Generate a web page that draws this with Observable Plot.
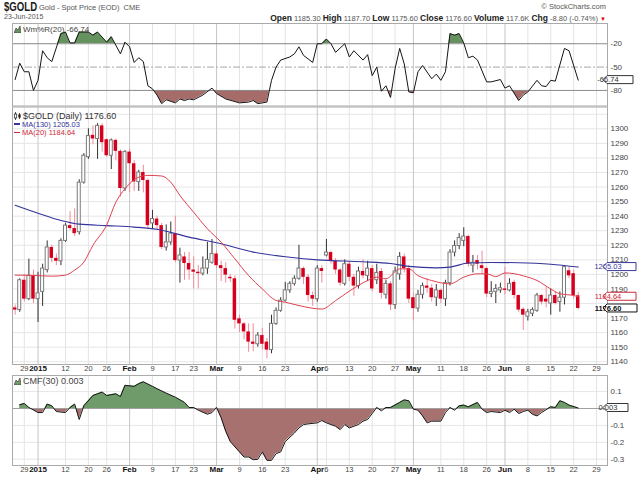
<!DOCTYPE html>
<html><head><meta charset="utf-8">
<script src="https://cdn.jsdelivr.net/npm/d3@7"></script>
<script src="https://cdn.jsdelivr.net/npm/@observablehq/plot@0.6"></script>
<style>
html,body{margin:0;padding:0;background:#fff;}
#wrap{position:relative;width:640px;height:477px;overflow:hidden;font-family:"Liberation Sans",Arial,sans-serif;background:#fff;}
#wrap svg.pl{position:absolute;left:0;top:0;}
.t{position:absolute;white-space:nowrap;line-height:1;color:#444;z-index:5;}
.t b{color:#222;}
</style></head><body>
<div id="wrap"></div>
<script>
// ---------- DATA (trading-day index 0 = 24-Dec-2014 ... 123 = 23-Jun-2015) ----------
const opens = [1177,1175.5,1196,1183,1199,1183,1188,1203,1218.5,1211,
1209,1223,1233.5,1231.5,1229,1263,1280.5,1295.5,1293,1302,
1292.5,1281.5,1292,1284.5,1259,1284,1276,1263.5,1270,1264.5,
1235,1238,1233.5,1218.5,1222,1228,1209.5,1212,1207.5,1203,
1201.5,1200.5,1204,1208,1214,1206,1204,1198,1197,1169.5,
1166,1160.5,1153.5,1152,1158,1153.5,1148,1166,1175,1182,
1189,1193.5,1197,1204,1198,1185.5,1183,1204,1213,1215,
1209,1203,1193.5,1207,1198,1192,1202,1199,1204,1196,
1202,1186,1193.5,1179,1200,1212,1204,1184,1176.5,1186,
1192,1190.5,1184,1189,1183,1194,1215,1219.5,1223,1226,
1206,1209.5,1206,1204,1186.5,1188,1189,1190,1189,1194.5,
1185.5,1176,1171,1173,1175,1185.5,1183,1180,1185.5,1181,
1184,1202.5,1200.5,1185.3];
const highs = [1179,1197,1200,1210.5,1203,1201.5,1207,1223,1220,1214,
1224.5,1235,1243,1245,1265,1283,1300,1302,1303.5,1303.5,
1293,1293,1293,1285.5,1285,1286,1278,1271.5,1275,1265.5,
1244,1240,1235,1234,1236,1240,1218,1215,1215,1212,
1206,1212,1222,1224,1216,1209,1208,1200,1199,1172,
1167,1166,1166,1160,1163,1156,1172,1177,1184,1194.5,
1195,1199,1220,1205,1200,1188,1206,1206,1224,1216,
1211,1204,1210,1209,1200,1205,1210,1209,1206,1207,
1204,1196,1195,1205,1215,1214,1206,1187,1189,1194,
1197,1193,1193,1190,1196,1217,1223,1228,1232,1227,
1213,1213,1216,1205,1195,1193,1194,1205,1197,1196,
1186,1177,1176,1177,1187,1186,1191,1190,1188,1188,
1206,1205,1203,1187.7];
const lows = [1172,1174,1181,1182,1180,1167,1178,1201,1208,1206,
1206,1222,1230,1226,1227,1262,1279,1289,1279,1284,
1280.5,1272,1278,1253,1257,1256,1257,1257,1256,1231.5,
1231,1230,1217,1216,1220,1208,1194,1196,1196,1190,
1190,1199,1200,1207,1204,1195,1194,1194.5,1162.5,1160,
1155,1146.5,1147,1150,1148,1142,1145.5,1165,1174,1181,
1187,1192,1196,1193,1181,1178,1181,1194,1212,1207,
1200,1192,1192,1195,1185,1190,1197,1195,1188,1193,
1183,1183,1175,1176,1196,1201,1180,1168,1174,1183,
1187,1181,1178,1180,1178,1192,1212,1217,1219,1205,
1201,1203,1200,1184,1184,1180,1187,1186,1188,1183,
1174,1161.5,1168,1171,1174,1179,1177,1172,1179,1174,
1179,1197,1183,1175.6];
const closes = [1175.5,1196,1183,1199,1183,1187,1204,1218.5,1211,1209,
1223,1233.5,1231.5,1228,1263,1281.5,1295,1293,1302,1290.5,
1281.5,1292,1284.5,1259,1284,1276,1263.5,1270,1264.5,1233.5,
1238,1233.5,1218.5,1222,1228,1209.5,1213,1207.5,1203,1201.5,
1200.5,1204,1210,1214,1206,1204,1199.5,1197,1168.5,1166,
1160.5,1153.5,1152,1158,1152,1148,1166,1175,1182,1189,
1193.5,1197,1204,1198,1185.5,1183,1204,1202,1215,1209,
1203,1194,1207,1198,1192,1202,1199,1204,1190,1201,
1187,1193.5,1179,1202,1212,1204,1183,1176.5,1186,1192,
1190.5,1184,1189,1183,1194,1215,1219.5,1225,1226,1207,
1208,1207,1204,1186.5,1188,1190,1190.5,1189,1193.5,1185.5,
1175.5,1172,1174,1175.5,1185.5,1181,1181,1185.5,1180,1184,
1205,1199,1185.5,1176.6];

// moving averages
const ma130Day = [0,5,10,14,20,26,31,38,45,52,60,66,76,82,86,92,95,99,104,110,117,123];
const ma130Value = [1247.5,1242,1237,1234.5,1233.5,1232.5,1231,1225.6,1221,1215.3,1211.8,1210,1208.7,1207.5,1205.5,1204.5,1205,1207.8,1208.2,1208,1207,1205.03];
const ma20Day = [0,4,8,11,13,15,17,20,22,24,27,29,32,34,36,39,42,45,48,51,54,57,59,62,67,70,73,77,79,81,84,86,88,91,95,98,101,103,105,107,109,111,114,117,119,122,123];
const ma20Value = [1199.5,1199.3,1198.8,1199.5,1203,1208.4,1220,1234,1249.6,1258.8,1266.8,1268,1267.6,1263.3,1254.2,1242.7,1231.3,1222.1,1210.7,1199.2,1190,1182.1,1180.9,1178.6,1176.2,1182,1188.5,1195.8,1198.1,1197,1203.8,1203.8,1199.2,1195.8,1193.5,1198.1,1200.4,1200.4,1198.5,1201,1200.5,1199,1195.8,1190,1186.7,1185.5,1184.64];

// Williams %R(20)
const wrDay = [0,1,2,3,4,5,6,7,8,10,11,12,13,14,16,17,18,20,21,23,24,25,26,27,28,29,30,31,32,33,35,36,37,38,39,41,43,44,46,49,51,52,53,55,56,57,58,60,61,62,63,65,66,67,68,69,70,72,73,74,76,77,78,79,80,81,82,83,84,85,86,87,88,89,91,92,93,94,95,96,97,98,99,100,101,103,104,106,107,108,110,111,112,114,115,116,117,118,120,121,123];
const wrValue = [-66,-45,-56,-56,-80,-67,-29,-38,-43,-7,-5,-19,-19,-5,-5,-9,-5,-18,-11,-33,-18,-24,-44,-38,-43,-74,-78,-86,-97,-92,-96,-91,-93,-91,-92,-86,-77,-84,-91,-96,-95,-93,-97,-95,-67,-50,-41,-37,-33,-24,-35,-44,-20,-20,-14,-20,-31,-20,-37,-29,-41,-34,-61,-50,-81,-74,-89,-52,-26,-46,-82,-83,-56,-48,-65,-59,-67,-56,-7,-9,-7,-19,-38,-36,-41,-69,-69,-66,-77,-74,-93,-86,-82,-67,-74,-75,-67,-68,-26,-29,-66.74];

// Chaikin Money Flow(30)
const cmfDay = [1,2,3,5,6,7,8,9,11,12,13,14,15,17,18,19,20,22,23,24,26,27,28,30,31,33,35,37,38,39,40,42,43,44,45,46,47,49,50,51,52,53,54,55,56,57,58,59,61,62,63,64,66,67,68,70,71,72,73,75,76,77,79,80,81,82,84,85,86,87,88,89,90,91,93,94,95,96,97,98,99,101,102,103,104,106,107,108,109,110,111,112,113,114,115,117,118,119,120,121,123];
const cmfValue = [0.022,0.030,0.006,-0.024,-0.024,0.026,0.016,-0.018,-0.024,0.006,0.026,-0.065,0.016,0.077,0.087,0.097,0.077,0.087,0.071,0.137,0.131,0.147,0.158,0.131,0.117,0.091,0.067,0.036,0.006,0.006,-0.010,-0.034,-0.024,0.006,-0.055,-0.135,-0.196,-0.257,-0.287,-0.287,-0.303,-0.301,-0.257,-0.307,-0.307,-0.267,-0.257,-0.196,-0.145,-0.115,-0.095,-0.091,-0.085,-0.071,-0.085,-0.105,-0.125,-0.095,-0.115,-0.095,-0.075,-0.065,0.006,-0.014,0.006,0.006,0.036,0.051,0.046,-0.004,-0.010,-0.044,-0.085,-0.075,-0.075,-0.024,0.006,-0.010,0.016,0.020,0.010,0.036,-0.004,-0.024,-0.018,-0.024,-0.010,-0.024,-0.004,-0.030,-0.018,-0.010,-0.034,-0.044,-0.024,0.010,0.006,0.046,0.036,0.020,0.003];

// axis ticks
const tickDays = [2,5,11,16,20,25,30,35,39,44,49,54,59,66,68,73,78,83,87,93,98,103,107,112,117,122,127];
const tickLabels = ["29","2015","12","20","26","Feb","9","17","23","Mar","9","16","23","Apr","6","13","20","27","May","11","18","26","Jun","8","15","22","29"];
// 1180 is hidden behind the last-value tags in the reference
const priceTicks = [1140,1150,1160,1170,1190,1200,1210,1220,1230,1240,1250,1260,1270,1280,1290,1300];
const priceGrid = [1140,1150,1160,1170,1180,1190,1200,1210,1220,1230,1240,1250,1260,1270,1280,1290,1300,1310];
const wrTicks = [-20,-50,-80];
const cmfTicks = [0.1,-0.1,-0.2,-0.3];

// ---------- BUILD ----------
const xDomain = [-0.58, 129.4];
const candles = opens.map((o, i) => ({i, o, h: highs[i], l: lows[i], c: closes[i]}));
const up = candles.filter(d => d.c >= d.o);
const down = candles.filter(d => d.c < d.o);
const zip = (a, b) => a.slice(0, Math.min(a.length, b.length)).map((x, k) => ({i: x, v: b[k]}));
const wr = zip(wrDay, wrValue), cmf = zip(cmfDay, cmfValue);
const ma20 = zip(ma20Day, ma20Value), ma130 = zip(ma130Day, ma130Value);
const ticks = tickDays.map((i, k) => ({i, label: tickLabels[k], major: isNaN(+tickLabels[k]) || tickLabels[k].length === 4}));
const minor = ticks.filter(t => !t.major), major = ticks.filter(t => t.major);
const fmt = d => String(d);

const STYLE = "background:transparent;overflow:visible;font-family:'Liberation Sans',Arial,sans-serif;font-size:8px;color:#333;";
function base(top, bottom, yDomain) {
  return {width: 640, height: 477, marginLeft: 12, marginRight: 33, marginTop: top, marginBottom: 477 - bottom,
    x: {domain: xDomain, axis: null}, y: {domain: yDomain, axis: null}, style: STYLE};
}
const vgrid = () => [
  Plot.ruleX(minor, {x: "i", stroke: "#e4e4e4"}),
  Plot.ruleX(major, {x: "i", stroke: "#c6c6c6"})
];
const xLabels = () => [
  Plot.text(minor, {x: "i", text: "label", frameAnchor: "bottom", dy: 6, fontSize: 7.5, fill: "#444"}),
  Plot.text(major, {x: "i", text: "label", frameAnchor: "bottom", dy: 6, fontSize: 8, fontWeight: "bold", fill: "#111"})
];

const WG = "#66925f", WRD = "#a56c6a", CG = "#6f9a69", CRD = "#a6716e";

const pW = Plot.plot({...base(23, 105.5, [-100, 6]), marks: [
  ...vgrid(),
  Plot.areaY(wr, {x: "i", y1: -20, y2: "v", fill: WG}),
  Plot.areaY(wr, {x: "i", y1: -80, y2: "v", fill: WRD}),
  Plot.ruleY([-20, -80], {stroke: "#8c8c8c"}),
  Plot.ruleY([-50], {stroke: "#a8a8a8", strokeDasharray: "7,2,2,2"}),
  Plot.line(wr, {x: "i", y: "v", stroke: "#151515", strokeWidth: 1}),
  Plot.axisY(wrTicks, {anchor: "right", tickSize: 0, tickPadding: 3, tickFormat: fmt, label: null, fill: "#444"}),
  Plot.frame({stroke: "#aaa"})
]});

const bodyEnd = d => Math.abs(d.c - d.o) < 0.6 ? d.o + (d.c >= d.o ? 0.6 : -0.6) : d.c;
const pM = Plot.plot({...base(106.5, 364, [1138.12, 1314.97]), marks: [
  Plot.ruleY(priceGrid, {stroke: "#e6e6e6"}),
  ...vgrid(),
  Plot.ruleX(down, {x: "i", y1: "l", y2: "h", stroke: "#f08c9a"}),
  Plot.ruleX(up, {x: "i", y1: "l", y2: "h", stroke: "#333"}),
  Plot.rect(down, {x1: d => d.i - 0.38, x2: d => d.i + 0.38, y1: "o", y2: bodyEnd, fill: "#d6001e"}),
  Plot.rect(up, {x1: d => d.i - 0.33, x2: d => d.i + 0.33, y1: "o", y2: bodyEnd, fill: "#fff", stroke: "#7a7a7a", strokeWidth: 1}),
  Plot.line(ma130, {x: "i", y: "v", stroke: "#34349c", strokeWidth: 1.1, curve: "monotone-x"}),
  Plot.line(ma20, {x: "i", y: "v", stroke: "#e0404e", strokeWidth: 1, curve: "monotone-x"}),
  Plot.axisY(priceTicks, {anchor: "right", tickSize: 0, tickPadding: 3, tickFormat: fmt, label: null, fill: "#444"}),
  ...xLabels(),
  Plot.frame({stroke: "#aaa"})
]});

const pC = Plot.plot({...base(375, 465, [-0.3373, 0.1953]), marks: [
  Plot.ruleY(cmfTicks, {stroke: "#e6e6e6"}),
  ...vgrid(),
  Plot.areaY(cmf, {x: "i", y1: 0, y2: "v", fill: CG}),
  Plot.areaY(cmf, {x: "i", y1: 0, y2: "v", fill: CRD}),
  Plot.ruleY([0], {stroke: "#a0a0a0"}),
  Plot.line(cmf, {x: "i", y: "v", stroke: "#151515", strokeWidth: 1}),
  Plot.axisY(cmfTicks, {anchor: "right", tickSize: 0, tickPadding: 3, tickFormat: fmt, label: null, fill: "#444"}),
  ...xLabels(),
  Plot.frame({stroke: "#aaa"})
]});

const wrap = document.getElementById("wrap");
[pW, pM, pC].forEach(s => { s.classList.add("pl"); wrap.appendChild(s); });

function yOf(p, v) {
  const s = p.scale("y");
  if (s && s.apply) return s.apply(v);
  const [d0, d1] = s.domain, [r0, r1] = s.range;
  return r0 + (v - d0) / (d1 - d0) * (r1 - r0);
}
function clip(svg, fill, y0, y1, id) {
  const s = d3.select(svg);
  s.append("defs").append("clipPath").attr("id", id)
    .append("rect").attr("x", 0).attr("width", 640).attr("y", y0).attr("height", Math.max(0, y1 - y0));
  s.selectAll(`[fill="${fill}"]`).attr("clip-path", `url(#${id})`);
}
clip(pW, WG, 0, yOf(pW, -20), "cwg");
clip(pW, WRD, yOf(pW, -80), 477, "cwr");
clip(pC, CG, 0, yOf(pC, 0), "ccg");
clip(pC, CRD, yOf(pC, 0), 477, "ccr");

function tag(svg, y, text, color, w, bold) {
  const g = d3.select(svg).append("g");
  const x0 = 603, h = 8;
  g.append("path").attr("d", `M${x0},${y}L${x0 + 4},${y - h / 2}H${x0 + 4 + w}V${y + h / 2}H${x0 + 4}Z`)
    .attr("fill", "#fff").attr("stroke", color).attr("stroke-width", 1);
  g.append("text").attr("x", x0 + 5).attr("y", y).attr("dy", "0.35em").attr("fill", color)
    .attr("font-size", 7.5).attr("font-weight", bold ? "bold" : "normal").text(text);
}
const lastClose = closes[closes.length - 1];
tag(pW, yOf(pW, wrValue[wrValue.length - 1]), String(wrValue[wrValue.length - 1]), "#333", 26, false);
tag(pM, yOf(pM, ma130Value[ma130Value.length - 1]), ma130Value[ma130Value.length - 1].toFixed(2), "#3a3a9a", 29, false);
tag(pM, yOf(pM, ma20Value[ma20Value.length - 1]), ma20Value[ma20Value.length - 1].toFixed(2), "#d0283a", 29, false);
tag(pM, yOf(pM, lastClose), lastClose.toFixed(2), "#111", 30, true);
tag(pC, yOf(pC, cmfValue[cmfValue.length - 1]), String(cmfValue[cmfValue.length - 1]), "#333", 21, false);

// ---------- TEXT ----------
const icoArea = c => `<svg width="7" height="7" style="vertical-align:-1px;margin-right:2px"><path d="M0,7L2,2L4,4L6,0L7,7Z" fill="${c}" stroke="#333" stroke-width="0.6"/></svg>`;
const icoCandle = `<svg width="7" height="8" style="vertical-align:-1px;margin-right:2px"><path d="M1.5,0V8M5.5,1V7" stroke="#222" stroke-width="0.8"/><rect x="0.3" y="2" width="2.4" height="4" fill="#fff" stroke="#222" stroke-width="0.7"/><rect x="4.3" y="2.5" width="2.4" height="3" fill="#222"/></svg>`;
const html = `
<div class="t" style="left:4px;top:1px;font-size:12px;font-weight:bold;color:#1a1a1a;transform:scaleX(0.8);transform-origin:0 0;">$GOLD</div>
<div class="t" style="left:39px;top:3.5px;font-size:7.5px;color:#555;">Gold - Spot Price (EOD)&nbsp;&nbsp;CME</div>
<div class="t" style="left:4px;top:12.5px;font-size:7px;color:#555;">23-Jun-2015</div>
<div class="t" style="right:34px;top:3px;font-size:7.5px;color:#555;">&copy; StockCharts.com</div>
<div class="t" style="right:34px;top:14px;font-size:7.5px;color:#555;"><b style="font-size:8.5px">Open</b> 1185.30 <b style="font-size:8.5px">High</b> 1187.70 <b style="font-size:8.5px">Low</b> 1175.60 <b style="font-size:8.5px">Close</b> 1176.60 <b style="font-size:8.5px">Volume</b> 117.6K <b style="font-size:8.5px">Chg</b> -8.80 (-0.74%) <span style="color:#d00;font-size:6px">&#9660;</span></div>
<div class="t" style="left:14px;top:25.5px;font-size:8px;color:#444;">${icoArea(WG)}Wm%R(20) -66.74</div>
<div class="t" style="left:14px;top:111.5px;font-size:9px;color:#333;">${icoCandle}$GOLD (Daily) 1176.60</div>
<div class="t" style="left:14px;top:120.5px;font-size:7.5px;color:#34349c;"><span style="display:inline-block;width:6px;height:1.2px;background:#34349c;vertical-align:2px;margin-right:2px"></span>MA(130) 1205.03</div>
<div class="t" style="left:14px;top:128.7px;font-size:7.5px;color:#d0283a;"><span style="display:inline-block;width:6px;height:1.2px;background:#d0283a;vertical-align:2px;margin-right:2px"></span>MA(20) 1184.64</div>
<div class="t" style="left:14px;top:376.5px;font-size:9px;color:#444;">${icoArea(CG)}CMF(30) 0.003</div>
`;
wrap.insertAdjacentHTML("beforeend", html);
</script>
</body></html>
